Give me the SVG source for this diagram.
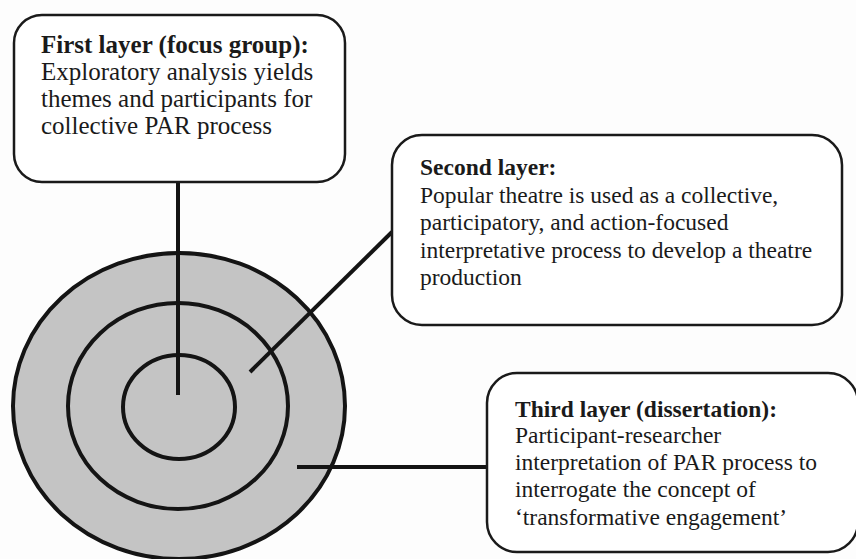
<svg xmlns="http://www.w3.org/2000/svg" width="856" height="559" viewBox="0 0 856 559">
<style>
.box{fill:#fff;stroke:#1a1a1a;stroke-width:2.5}
.ring{fill:#c4c4c4;stroke:#141414;stroke-width:4}
.conn{stroke:#141414;stroke-width:4;fill:none}
text{font-family:"Liberation Serif","Times New Roman",serif;font-size:23.5px;fill:#1a1a1a}
.big{font-size:25px}
.b{font-weight:bold}
</style>
<rect width="856" height="559" fill="#fdfdfd"/>
<g id="target">
<ellipse class="ring" cx="179" cy="406" rx="166" ry="153"/>
<ellipse class="ring" cx="178" cy="406" rx="110" ry="103"/>
<ellipse class="ring" cx="179" cy="407" rx="56" ry="52"/>
</g>
<g id="connectors">
<line class="conn" x1="178" y1="182" x2="178" y2="395"/>
<line class="conn" x1="250" y1="372" x2="392" y2="232"/>
<line class="conn" x1="297" y1="467" x2="487" y2="467"/>
</g>
<g id="first-layer">
<rect class="box" x="14" y="15" width="331" height="167" rx="28"/>
<text class="big" x="41" y="53"><tspan class="b">First layer (focus group):</tspan><tspan x="41" y="80">Exploratory analysis yields</tspan><tspan x="41" y="107">themes and participants for</tspan><tspan x="41" y="134">collective PAR process</tspan></text>
</g>
<g id="second-layer">
<rect class="box" x="392" y="135" width="450" height="190" rx="30"/>
<text x="420" y="175"><tspan class="b">Second layer:</tspan><tspan x="420" y="203">Popular theatre is used as a collective,</tspan><tspan x="420" y="230">participatory, and action-focused</tspan><tspan x="420" y="258">interpretative process to develop a theatre</tspan><tspan x="420" y="285">production</tspan></text>
</g>
<g id="third-layer">
<rect class="box" x="487" y="373" width="371" height="179" rx="30"/>
<text x="515" y="417"><tspan class="b">Third layer (dissertation):</tspan><tspan x="515" y="443">Participant-researcher</tspan><tspan x="515" y="470">interpretation of PAR process to</tspan><tspan x="515" y="497">interrogate the concept of</tspan><tspan x="515" y="525">‘transformative engagement’</tspan></text>
</g>
</svg>
